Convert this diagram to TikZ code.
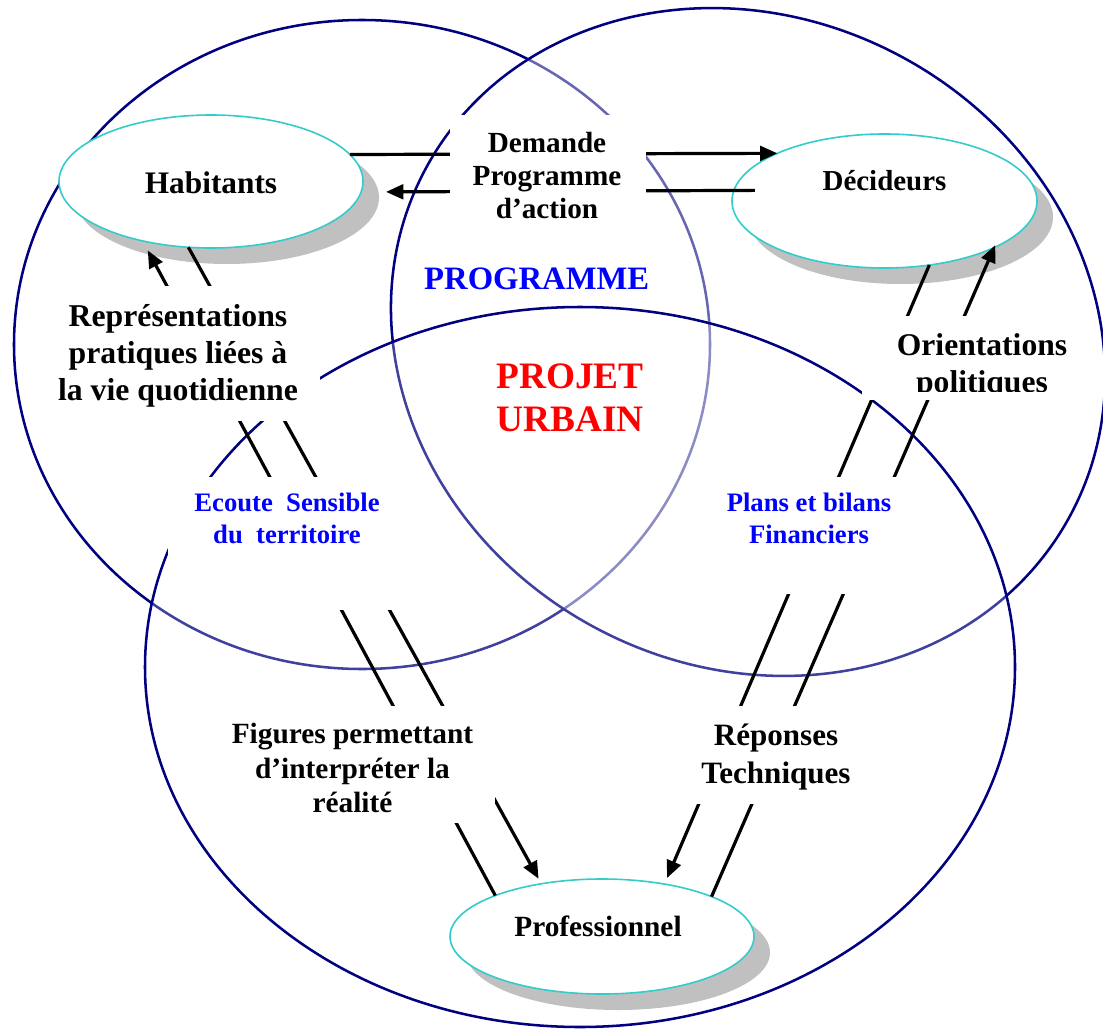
\documentclass[tikz,border=0pt]{standalone}
\usepackage{fontspec}
\setmainfont{Liberation Serif}
\usetikzlibrary{arrows.meta,shapes.geometric}
\definecolor{navyc}{RGB}{0,0,128}
\definecolor{cyanc}{RGB}{51,204,204}
\definecolor{shadowc}{RGB}{192,192,192}
\definecolor{bluec}{RGB}{0,0,255}
\definecolor{redc}{RGB}{255,0,0}
\newcommand\bsz[2]{\fontsize{#1}{#2}\selectfont\bfseries}
\tikzset{
  ring/.style={draw=navyc, line width=1.9pt},
  actor/.style={ellipse, draw=cyanc, line width=1.2pt, fill=white, inner sep=0pt, outer sep=0pt,
    preaction={fill=shadowc, transform canvas={shift={(12pt,-12pt)}}}},
  link/.style={line width=2.4pt, draw=black},
  tip/.style={-{Triangle[length=13pt,width=11pt]}},
  mask/.style={fill=white},
  lbl/.style={align=center, inner sep=0pt}
}
\begin{document}
\begin{tikzpicture}[x=0.75pt,y=-0.75pt]
\useasboundingbox (0,0) rectangle (1103,1031);
\fill[white] (0,0) rectangle (1103,1031);

% big circles
\draw[ring] (362,344.5) ellipse [x radius=348, y radius=324.5];
\draw[ring, fill=white, fill opacity=0.4, shift={(748,342)}, rotate=-28.3] (0,0) ellipse [x radius=366, y radius=324];
\draw[ring, fill=white, fill opacity=0.25] (580,667) ellipse [x radius=435, y radius=360];

% actors
\node[actor, minimum width=228pt, minimum height=99.75pt, text height=23.7pt, text depth=6pt,
  font=\bsz{23.5}{27}] (hab) at (211,181.5) {Habitants};
\node[actor, minimum width=228.75pt, minimum height=100.5pt, text height=16pt, text depth=32.5pt,
  font=\bsz{21.7}{25}] (dec) at (884.5,201) {Décideurs};
\node[actor, minimum width=228pt, minimum height=86.25pt, text height=14pt, text depth=14pt,
  font=\bsz{22}{25.3}] (prof) at (602,936.5) {\hspace*{-6pt}Professionnel};

% connectors
\draw[link,tip] (hab.11.57) -- (dec.156);
\draw[link,tip,shorten <=-15.75pt,shorten >=18.7pt] (dec.176.59) -- (hab.-4);
\draw[link,tip,shorten >=8.1pt] (prof.159.7) -- (hab.-139.9);
\draw[link,tip,shorten >=4.3pt] (hab.-109.5) -- (prof.139.8);
\draw[link,tip,shorten >=5pt] (dec.-55.25) -- (prof.40);
\draw[link,tip,shorten >=-2pt] (prof.20) -- (dec.-23.05);

% label masks
\fill[mask] (450,115) rectangle (646,235);
\fill[mask] (36,286) rectangle (320,421);
\fill[mask] (168,477) rectangle (400,610);
\fill[mask] (225,706) rectangle (495,823);
\fill[mask] (862,316) rectangle (1070,400);
\fill[mask] (720,477) rectangle (905,594);
\fill[mask] (690,706) rectangle (860,804);

% labels
\node[lbl, font=\bsz{21.9}{25.1}] (dem) at (547,178.8) {Demande\strut\\Programme\strut\\d’action\strut};
\node[lbl, font=\bsz{23.8}{27.5}] (rep) at (178,356) {Représentations\strut\\pratiques liées à\strut\\la vie quotidienne\strut};
\begin{scope}
\clip (862,316) rectangle (1070,391);
\node[lbl, font=\bsz{23.7}{27.75}] (ori) at (982,366.1) {Orientations\strut\\politiques\strut};
\end{scope}
\node[lbl, text=bluec, font=\bsz{20}{24}] (eco) at (287,521.5) {Ecoute~~Sensible\strut\\du~~territoire\strut};
\node[lbl, text=bluec, font=\bsz{20}{24}] (plans) at (809,521.5) {Plans et bilans\strut\\Financiers\strut};
\node[lbl, font=\bsz{22}{25.7}] (fig) at (352.5,771.4) {Figures permettant\strut\\d’interpréter la\strut\\réalité\strut};
\node[lbl, font=\bsz{23.3}{28.65}] (repo) at (776,756.8) {Réponses\strut\\Techniques\strut};
\node[lbl, text=bluec, font=\bsz{24.5}{28}] (prog) at (536.7,282.5) {PROGRAMME\strut};
\node[lbl, text=redc, font=\bsz{28}{32.5}] (proj) at (570,401.3) {PROJET\strut\\URBAIN\strut};
\end{tikzpicture}
\end{document}
